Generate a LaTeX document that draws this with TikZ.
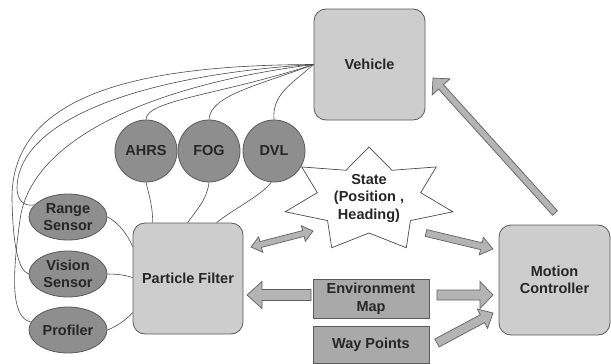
\documentclass[tikz,border=0pt]{standalone}
\usepackage{fontspec}
\setmainfont{Liberation Sans}
\usetikzlibrary{calc,shapes.geometric}
\definecolor{boxfill}{HTML}{CDCDCD}
\definecolor{boxline}{HTML}{5A5A5A}
\definecolor{circfill}{HTML}{8E8E8E}
\definecolor{midfill}{HTML}{A9A9A9}
\definecolor{arrfill}{HTML}{B4B4B4}
\definecolor{arrline}{HTML}{606060}
\definecolor{wirecol}{HTML}{4A4A4A}
\definecolor{txtcol}{HTML}{262626}
\newcommand\dlabelfont{\fontsize{14.5}{17.5}\selectfont\bfseries}
% single headed fat arrow: tail, tip, shaft half width, head half width, head length
\newcommand\fatarrow[5]{%
  \path[fatarr] let \p1=(#1), \p2=(#2),
    \n1={atan2(\y2-\y1,\x2-\x1)}, \n2={veclen(\x2-\x1,\y2-\y1)} in
    [shift={(\p1)}, rotate=\n1]
    (0pt,-#3pt) -- ({\n2-#5pt},-#3pt) -- ({\n2-#5pt},-#4pt) -- (\n2,0pt)
    -- ({\n2-#5pt},#4pt) -- ({\n2-#5pt},#3pt) -- (0pt,#3pt) -- cycle;}
% double headed fat arrow
\newcommand\fatdarrow[5]{%
  \path[fatarr] let \p1=(#1), \p2=(#2),
    \n1={atan2(\y2-\y1,\x2-\x1)}, \n2={veclen(\x2-\x1,\y2-\y1)} in
    [shift={(\p1)}, rotate=\n1]
    (0pt,0pt) -- (#5pt,-#4pt) -- (#5pt,-#3pt) -- ({\n2-#5pt},-#3pt) -- ({\n2-#5pt},-#4pt) -- (\n2,0pt)
    -- ({\n2-#5pt},#4pt) -- ({\n2-#5pt},#3pt) -- (#5pt,#3pt) -- (#5pt,#4pt) -- cycle;}
\begin{document}
\begin{tikzpicture}[x=1pt,y=-1pt,
  rbox/.style={draw=boxline, fill=boxfill, rounded corners=12pt, line width=0.8pt,
    font=\dlabelfont, text=txtcol, align=center, inner sep=0pt},
  circ/.style={circle, draw=boxline, fill=circfill, minimum size=62pt, inner sep=0pt,
    line width=0.8pt, font=\dlabelfont, text=txtcol},
  ell/.style={ellipse, draw=boxline, fill=circfill, minimum width=78pt, minimum height=46pt,
    inner sep=0pt, line width=0.8pt, align=center, font=\dlabelfont, text=txtcol},
  mbox/.style={rectangle, draw=boxline, fill=midfill, minimum width=116pt, inner sep=0pt,
    line width=0.8pt, align=center, font=\dlabelfont, text=txtcol},
  wire/.style={draw=wirecol, line width=0.6pt},
  fatarr/.style={fill=arrfill, draw=arrline, line width=0.7pt, line join=miter},
  starshape/.style={fill=white, draw=wirecol, line width=0.7pt, line join=miter},
  lbl/.style={font=\dlabelfont, text=txtcol, align=center, inner sep=0pt}]
\useasboundingbox (0,0) rectangle (611,364);

% boxes
\node[rbox, minimum width=111pt, minimum height=111pt] (veh) at (369.5,64.5) {Vehicle};
\node[rbox, minimum width=110pt, minimum height=111pt] (pf) at (188,278.5) {Particle Filter};
\node[rbox, minimum width=111pt, minimum height=110pt] (mc) at (554.5,280) {Motion\\Controller};
\node[mbox, minimum height=39pt] (env) at (371,298.5) {Environment\\Map};
\node[mbox, minimum height=37pt] (wp) at (371,345) {Way Points};

% sensors
\node[circ] (ahrs) at (146,151) {AHRS};
\node[circ] (fog) at (209,151) {FOG};
\node[circ] (dvl) at (274,151) {DVL};
\node[ell] (range) at (68,217) {Range\\Sensor};
\node[ell] (vision) at (68,274) {Vision\\Sensor};
\node[ell] (prof) at (68,330) {Profiler};

% star
\coordinate (sc) at (369,200);
\draw[starshape] ($(sc)+(270:86 and 53)$)
  \foreach \k in {0,...,6}{
    -- ($(sc)+({270+\k*51.4286+25.7143}:53 and 33)$)
    -- ($(sc)+({270+(\k+1)*51.4286}:86 and 53)$)
  } -- cycle;
\node[lbl] (state) at (369,198) {State\\(Position ,\\Heading)};

% wires from vehicle
\draw[wire] (veh.west) .. controls (220,95) and (146,100) .. (ahrs.north);
\draw[wire] (veh.west) .. controls (260,85) and (210,95) .. (fog.north);
\draw[wire] (veh.west) .. controls (290,85) and (272,95) .. (dvl.north);
\draw[wire] (veh.west) .. controls (150,65) and (10,90) .. (12,200)
  .. controls (13,245) and (18,270) .. (vision.west);
\draw[wire] (veh.west) .. controls (140,75) and (18,120) .. (17,188)
  .. controls (17,200) and (24,207) .. (range.160);
\draw[wire] (veh.west) .. controls (150,85) and (30,140) .. (20,220)
  .. controls (10,290) and (14,318) .. (prof.168);

% wires to particle filter
\draw[wire] (ahrs.south) .. controls (150,198) and (153,210) .. ([xshift=20pt]pf.north west);
\draw[wire] (fog.south) .. controls (207,200) and (195,212) .. ([xshift=55pt]pf.north west);
\draw[wire] (dvl.265) .. controls (262,195) and (235,208) .. ([xshift=84pt]pf.north west);
\draw[wire] (range.east) .. controls (118,222) and (128,235) .. ([yshift=-24pt]pf.north west);
\draw[wire] (vision.east) .. controls (120,274) and (128,276) .. ([yshift=-55pt]pf.north west);
\draw[wire] (prof.east) .. controls (118,326) and (128,318) .. ([yshift=-90pt]pf.north west);

% fat arrows
\coordinate (a1t) at (251,247); \coordinate (a1h) at (313,231);
\coordinate (a2t) at (311,295); \coordinate (a2h) at (247,295);
\coordinate (a3t) at (437,295); \coordinate (a3h) at (493,295);
\coordinate (a4t) at (426,233); \coordinate (a4h) at (493,249);
\coordinate (a5t) at (437,343); \coordinate (a5h) at (493,313);
\coordinate (a6t) at (555,213); \coordinate (a6h) at (433,78);
\fatdarrow{a1t}{a1h}{3}{8}{10}
\fatarrow{a2t}{a2h}{5.5}{13.5}{15}
\fatarrow{a3t}{a3h}{5}{13.5}{13}
\fatarrow{a4t}{a4h}{3.5}{9}{12}
\fatarrow{a5t}{a5h}{4.5}{11}{12}
\fatarrow{a6t}{a6h}{3.3}{12}{12}
\end{tikzpicture}
\end{document}
